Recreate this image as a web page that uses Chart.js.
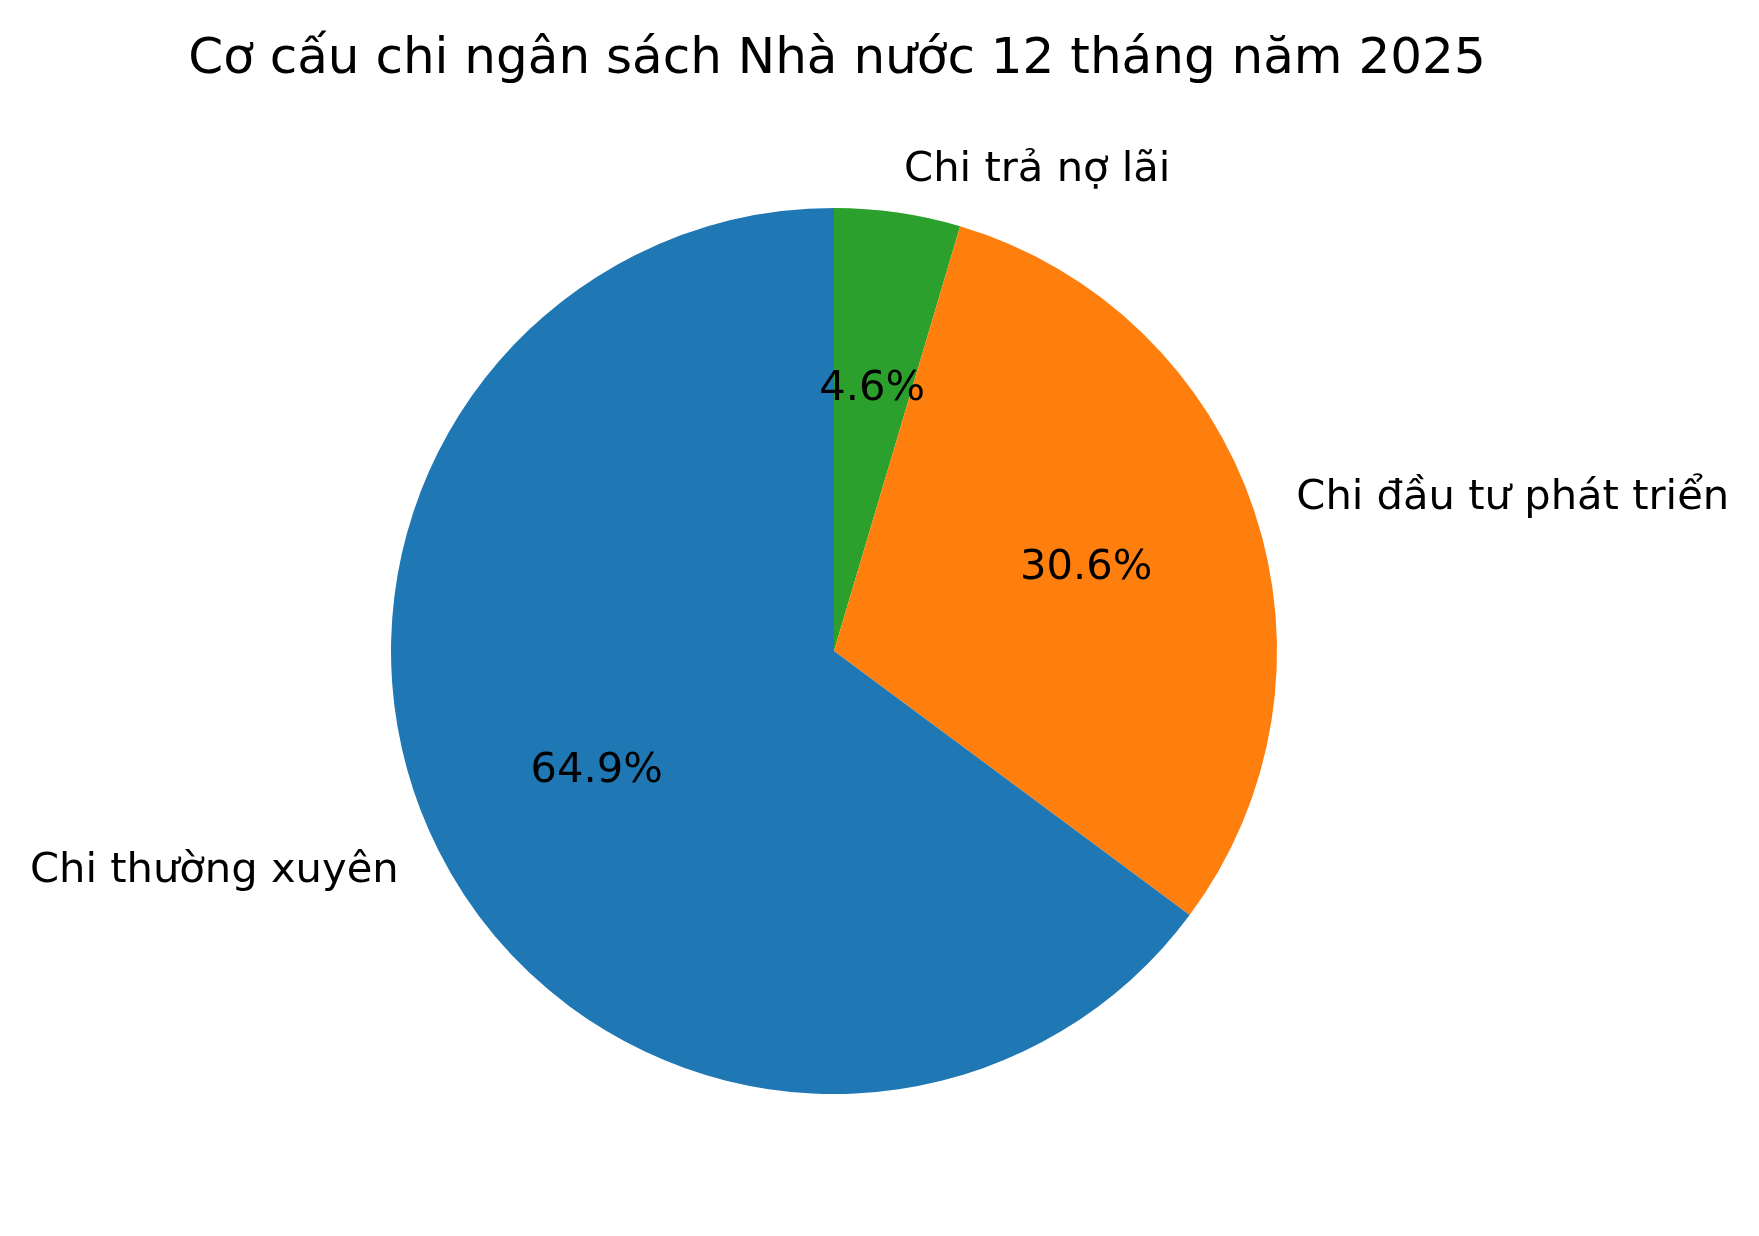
<!DOCTYPE html>
<html>
<head>
<meta charset="utf-8">
<script src="https://cdn.jsdelivr.net/npm/chart.js@4.4.1/dist/chart.umd.min.js"></script>
<style>
  html, body { margin: 0; padding: 0; background: #fff; }
  canvas { display: block; }
</style>
</head>
<body>
<canvas id="grafico" width="1759" height="1236"></canvas>
<script>
// data, in drawing order (clockwise from the top)
const categories = ['Chi trả nợ lãi', 'Chi đầu tư phát triển', 'Chi thường xuyên'];
const shares = [4.6, 30.6, 64.9];
const colors = ['#2ca02c', '#ff7f0e', '#1f77b4'];
const titleText = 'Cơ cấu chi ngân sách Nhà nước 12 tháng năm 2025';

const labelFont = '41.67px "DejaVu Sans"';
const titleFont = '50px "DejaVu Sans"';

// title is wider than the pie box, so it is drawn here instead of by the title plugin
const pieTitle = {
    id: 'pieTitle',
    afterDraw(chart) {
        const ctx = chart.ctx;
        ctx.save();
        ctx.font = titleFont;
        ctx.fillStyle = '#000';
        ctx.textAlign = 'center';
        ctx.textBaseline = 'alphabetic';
        const cx = (chart.chartArea.left + chart.chartArea.right) / 2 + 3;
        ctx.fillText(titleText, cx, 73);
        ctx.restore();
    }
};

// outside names at 1.1 r, percentages at 0.6 r
const pieLabels = {
    id: 'pieLabels',
    afterDatasetsDraw(chart) {
        const ctx = chart.ctx;
        const meta = chart.getDatasetMeta(0);
        ctx.save();
        ctx.font = labelFont;
        ctx.fillStyle = '#000';
        ctx.textBaseline = 'alphabetic';
        meta.data.forEach(function(arc, i) {
            const p = arc.getProps(['x', 'y', 'startAngle', 'endAngle', 'outerRadius'], true);
            const mid = (p.startAngle + p.endAngle) / 2;
            const c = Math.cos(mid), s = Math.sin(mid);
            const off = 12;

            const lx = p.x + c * p.outerRadius * 1.1;
            const ly = p.y + s * p.outerRadius * 1.1;
            ctx.textAlign = c >= 0 ? 'left' : 'right';
            ctx.fillText(categories[i], lx, ly + off);

            const px = p.x + c * p.outerRadius * 0.6;
            const py = p.y + s * p.outerRadius * 0.6;
            ctx.textAlign = 'center';
            ctx.fillText(shares[i].toFixed(1) + '%', px, py + off);
        });
        ctx.restore();
    }
};

const ctx = document.getElementById('grafico').getContext('2d');
new Chart(ctx, {
    type: 'pie',
    data: {
        labels: categories,
        datasets: [{
            data: shares,
            backgroundColor: colors,
            borderWidth: 0
        }]
    },
    options: {
        responsive: false,
        animation: false,
        devicePixelRatio: 1,
        rotation: 0,
        layout: {
            padding: { left: 391, right: 482, top: 208, bottom: 142 }
        },
        plugins: {
            legend: { display: false },
            tooltip: { enabled: false },
            title: { display: false }
        }
    },
    plugins: [pieLabels, pieTitle]
});
</script>
</body>
</html>
